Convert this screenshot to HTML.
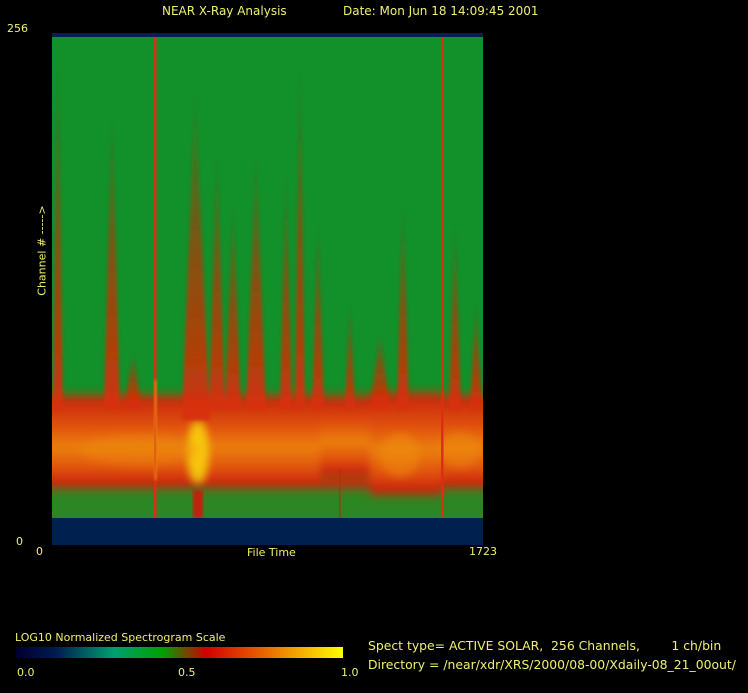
<!DOCTYPE html>
<html><head><meta charset="utf-8"><style>
html,body{margin:0;padding:0;background:#000;}
body{width:748px;height:693px;position:relative;overflow:hidden;font-family:"DejaVu Sans","Liberation Sans",sans-serif;color:#f0f070;font-size:11px;}
.t{position:absolute;white-space:nowrap;line-height:1;}
</style></head><body>
<div class="t" style="left:162px;top:5px;font-size:12px;">NEAR X-Ray Analysis</div>
<div class="t" style="left:343px;top:5px;font-size:12px;">Date: Mon Jun 18 14:09:45 2001</div>
<div class="t" style="left:7px;top:23px;">256</div>
<div class="t" style="left:16px;top:536px;">0</div>
<div class="t" style="left:36px;top:546px;">0</div>
<div class="t" style="left:247px;top:547px;">File Time</div>
<div class="t" style="left:469px;top:546px;">1723</div>
<div class="t" style="left:-9px;top:245px;transform:rotate(-90deg);transform-origin:center;width:102px;text-align:center;">Channel # -----&gt;</div>

<svg width="748" height="693" style="position:absolute;left:0;top:0">
<defs>
<linearGradient id="band" x1="0" y1="0" x2="0" y2="1">
<stop offset="0" stop-color="#1a8c20" stop-opacity="0"/>
<stop offset="0.1" stop-color="#c82808"/>
<stop offset="0.35" stop-color="#e05008"/>
<stop offset="0.55" stop-color="#ea8010"/>
<stop offset="0.75" stop-color="#e05008"/>
<stop offset="0.9" stop-color="#c82008"/>
<stop offset="1" stop-color="#1a8c20" stop-opacity="0"/>
</linearGradient>
<linearGradient id="sp" x1="0" y1="0" x2="0" y2="1">
<stop offset="0" stop-color="#c82008" stop-opacity="0"/>
<stop offset="0.5" stop-color="#d02808" stop-opacity="0.6"/>
<stop offset="1" stop-color="#d83008" stop-opacity="0.95"/>
</linearGradient>
<linearGradient id="cb" x1="0" y1="0" x2="1" y2="0">
<stop offset="0" stop-color="#000030"/>
<stop offset="0.12" stop-color="#001a50"/>
<stop offset="0.3" stop-color="#00a070"/>
<stop offset="0.45" stop-color="#00a000"/>
<stop offset="0.58" stop-color="#d00000"/>
<stop offset="0.75" stop-color="#e86000"/>
<stop offset="1" stop-color="#ffff00"/>
</linearGradient>
<filter id="b1"><feGaussianBlur stdDeviation="1.5"/></filter>
<filter id="b4"><feGaussianBlur stdDeviation="4"/></filter>
<clipPath id="cp"><rect x="52" y="37" width="431" height="481"/></clipPath>
</defs>
<rect x="52" y="33" width="431" height="5" fill="#00204f"/>
<rect x="52" y="37" width="431" height="481" fill="#12902a"/>
<rect x="52" y="518" width="431" height="27" fill="#00204f"/>
<g clip-path="url(#cp)">
<rect x="52" y="490" width="431" height="28" fill="#6a7018" opacity="0.3"/>
<g filter="url(#b4)">
<rect x="40" y="388" width="460" height="108" fill="url(#band)"/>
<rect x="320" y="392" width="50" height="90" fill="url(#band)"/>
<rect x="370" y="385" width="72" height="118" fill="url(#band)"/>
<ellipse cx="198" cy="452" rx="10" ry="30" fill="#f8d010" opacity="0.9"/>
<ellipse cx="400" cy="455" rx="20" ry="22" fill="#f09010" opacity="0.5"/>
<ellipse cx="140" cy="450" rx="60" ry="16" fill="#f09010" opacity="0.35"/>
<ellipse cx="460" cy="450" rx="20" ry="18" fill="#f09010" opacity="0.4"/>
</g>
<g filter="url(#b1)" fill="url(#sp)">
<polygon points="58,60 53,410 63,410"/>
<polygon points="112,110 104,410 120,410"/>
<polygon points="195,90 182,420 210,420"/>
<polygon points="217,150 209,410 225,410"/>
<polygon points="233,200 225,410 241,410"/>
<polygon points="256,150 246,410 266,410"/>
<polygon points="286,170 280,410 292,410"/>
<polygon points="300,60 295,410 305,410"/>
<polygon points="318,220 312,410 324,410"/>
<polygon points="380,330 370,410 390,410"/>
<polygon points="403,200 397,410 409,410"/>
<polygon points="455,220 449,410 461,410"/>
<polygon points="476,300 470,410 482,410"/>
<polygon points="133,350 124,410 142,410"/>
<polygon points="350,300 345,410 355,410"/>
</g>
<rect x="154" y="37" width="2.5" height="481" fill="#d83010"/>
<rect x="441" y="37" width="2.5" height="481" fill="#d83010"/>
<rect x="154" y="380" width="3" height="100" fill="#f0a010" opacity="0.7" filter="url(#b1)"/>
<rect x="339" y="470" width="1.5" height="48" fill="#b03010"/>
<rect x="193" y="490" width="10" height="28" fill="#c02008" filter="url(#b1)"/>
</g>
<rect x="16" y="647" width="327" height="11" fill="url(#cb)"/>
</svg>
<div class="t" style="left:15px;top:632px;">LOG10 Normalized Spectrogram Scale</div>
<div class="t" style="left:17px;top:667px;">0.0</div>
<div class="t" style="left:178px;top:667px;">0.5</div>
<div class="t" style="left:341px;top:667px;">1.0</div>
<div class="t" style="left:368px;top:640px;font-size:12.4px;">Spect type= ACTIVE SOLAR,&nbsp; 256 Channels,&nbsp;&nbsp;&nbsp;&nbsp;&nbsp;&nbsp;&nbsp; 1 ch/bin</div>
<div class="t" style="left:368px;top:659px;font-size:12.4px;">Directory = /near/xdr/XRS/2000/08-00/Xdaily-08_21_00out/</div>
</body></html>
